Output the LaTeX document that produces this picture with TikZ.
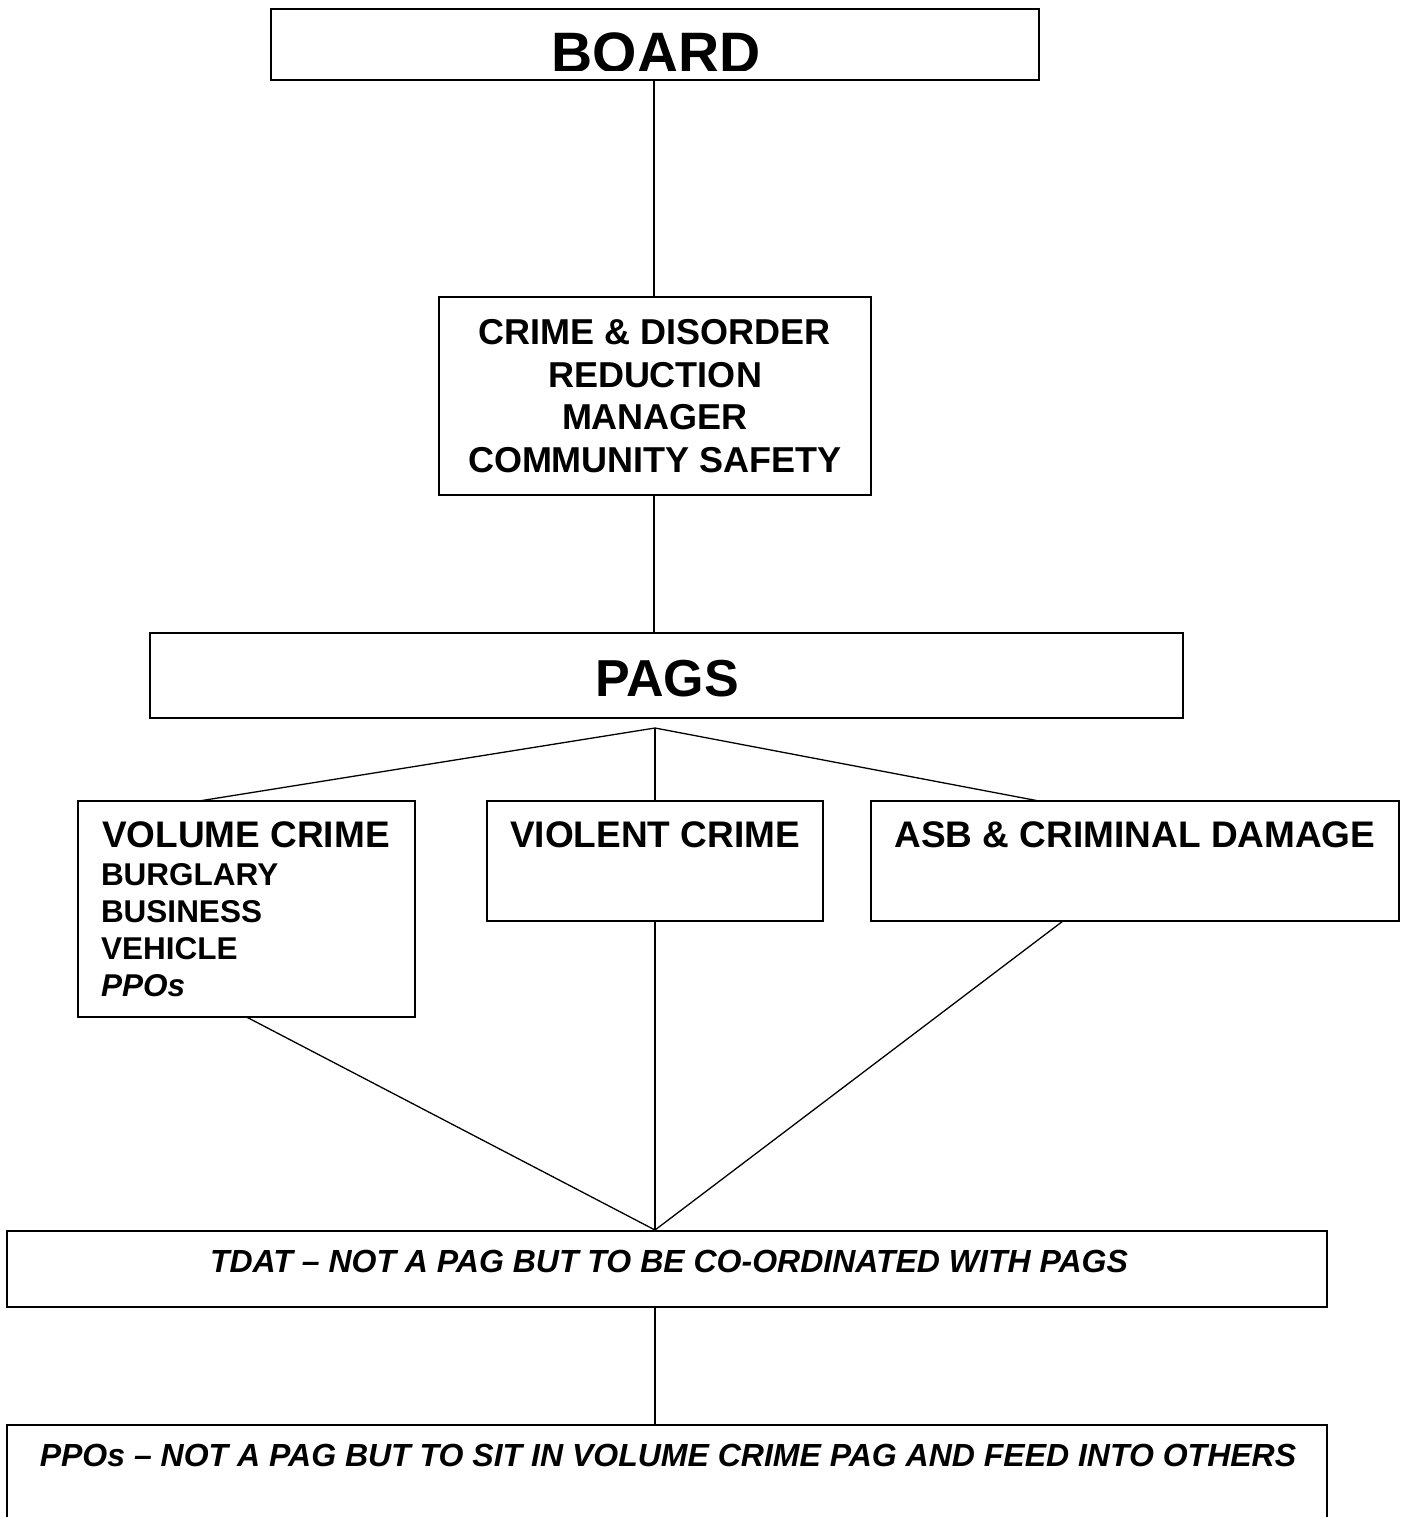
\documentclass[tikz,border=0pt]{standalone}
\usepackage{fontspec}
\setmainfont{Liberation Sans}
\begin{document}
\begin{tikzpicture}[x=1pt,y=-1pt,
  box/.style={draw, line width=1.6pt, inner sep=0pt, outer sep=0pt, anchor=north west},
  conn/.style={line width=1.3pt},
  lbl/.style={inner sep=0pt, outer sep=0pt, font=\bfseries}]
\useasboundingbox (0,0) rectangle (1406,1517);
% boxes
\node[box, minimum width=768pt, minimum height=71pt] (board) at (271,9) {};
\node[box, minimum width=432pt, minimum height=198pt] (cdrm) at (439,297) {};
\node[box, minimum width=1033pt, minimum height=85pt] (pags) at (150,633) {};
\node[box, minimum width=337pt, minimum height=216pt] (vc) at (78,801) {};
\node[box, minimum width=336pt, minimum height=120pt] (viol) at (487,801) {};
\node[box, minimum width=528pt, minimum height=120pt] (asb) at (871,801) {};
\node[box, minimum width=1320pt, minimum height=76pt] (tdat) at (7,1231) {};
\node[box, minimum width=1320pt, minimum height=120pt] (ppo) at (7,1425) {};
% texts
\begin{scope}
\clip (271,9) rectangle (1039,71);
\node[lbl, anchor=base, font=\bfseries\fontsize{57}{60}\selectfont] (tboard) at (656,73) {BOARD};
\end{scope}
\node[lbl, anchor=base, font=\bfseries\fontsize{36}{40}\selectfont] (tc1) at (655,344) {CRIME \& DISORDER};
\node[lbl, anchor=base, font=\bfseries\fontsize{36}{40}\selectfont] (tc2) at (655,387) {REDUCTION};
\node[lbl, anchor=base, font=\bfseries\fontsize{36}{40}\selectfont] (tc3) at (655,429) {MANAGER};
\node[lbl, anchor=base, font=\bfseries\fontsize{36}{40}\selectfont] (tc4) at (655,472) {COMMUNITY SAFETY};
\node[lbl, anchor=base, font=\bfseries\fontsize{52}{56}\selectfont] (tpags) at (667,696) {PAGS};
\node[lbl, anchor=base west, font=\bfseries\fontsize{37}{40}\selectfont] (tvc) at (102,847) {VOLUME CRIME};
\node[lbl, anchor=base west, font=\bfseries\fontsize{31.5}{35}\selectfont] (tv1) at (101,885) {BURGLARY};
\node[lbl, anchor=base west, font=\bfseries\fontsize{31.5}{35}\selectfont] (tv2) at (101,922) {BUSINESS};
\node[lbl, anchor=base west, font=\bfseries\fontsize{31.5}{35}\selectfont] (tv3) at (101,959) {VEHICLE};
\node[lbl, anchor=base west, font=\bfseries\itshape\fontsize{31.5}{35}\selectfont] (tv4) at (101,996) {PPOs};
\node[lbl, anchor=base, font=\bfseries\fontsize{37}{40}\selectfont] (tviol) at (655,847) {VIOLENT CRIME};
\node[lbl, anchor=base, font=\bfseries\fontsize{37}{40}\selectfont] (tasb) at (1135,847) {ASB \& CRIMINAL DAMAGE};
\node[lbl, anchor=base, font=\bfseries\itshape\fontsize{32}{35}\selectfont] (ttdat) at (669,1272) {TDAT – NOT A PAG BUT TO BE CO-ORDINATED WITH PAGS};
\node[lbl, anchor=base, font=\bfseries\itshape\fontsize{32}{35}\selectfont] (tppo) at (668,1466) {PPOs – NOT A PAG BUT TO SIT IN VOLUME CRIME PAG AND FEED INTO OTHERS};
% connector points
\coordinate (apexA) at (655,728);
\coordinate (vcTop) at (199,801);
\coordinate (asbTop) at (1039,801);
\coordinate (asbBot) at (1063,921);
\coordinate (apexB) at (655,1230);
% connectors
\draw[conn] (board.south -| 654,0) -- (cdrm.north -| 654,0);
\draw[conn] (cdrm.south -| 654,0) -- (pags.north -| 654,0);
\draw[conn] (apexA) -- (vcTop);
\draw[conn] (apexA) -- (viol.north -| apexA);
\draw[conn] (apexA) -- (asbTop);
\draw[conn] (vc.south) -- (apexB);
\draw[conn] (viol.south -| apexB) -- (apexB);
\draw[conn] (asbBot) -- (apexB);
\draw[conn] (tdat.south -| apexB) -- (ppo.north -| apexB);
\end{tikzpicture}
\end{document}
